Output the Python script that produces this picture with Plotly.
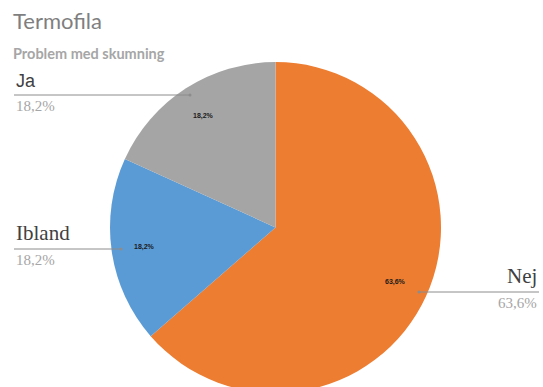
import math
import plotly.graph_objects as go

# Survey answers: "Problem med skumning" (Termofila)
categories = ["Nej", "Ibland", "Ja"]
shares = [63.6, 18.2, 18.2]
share_labels = ["63,6%", "18,2%", "18,2%"]
colors = ["#ED7D31", "#5B9BD5", "#A5A5A5"]

W, H = 543, 395
CX, CY, R = 275.5, 227.5, 165.5  # pie centre and radius in pixels


def px(x):
    return x / W


def py(y):
    return 1 - y / H


fig = go.Figure(go.Pie(
    labels=categories,
    values=shares,
    sort=False,
    direction="clockwise",
    rotation=0,
    marker=dict(colors=colors, line=dict(width=0)),
    textinfo="none",
    hoverinfo="label+percent",
    showlegend=False,
    domain=dict(x=[px(CX - R), px(CX + R)], y=[py(CY + R), py(CY - R)]),
))

annotations = []
shapes = []

# Small value labels inside each slice, placed at the slice's mid angle
total = sum(shares)
start = 0.0
for i, v in enumerate(shares):
    span = v / total * 360
    mid = math.radians(start + span / 2)
    rr = 0.80 * R
    x = CX + rr * math.sin(mid)
    y = CY - rr * math.cos(mid)
    annotations.append(dict(
        x=px(x), y=py(y), xref="paper", yref="paper",
        xanchor="center", yanchor="middle",
        text="<b>" + share_labels[i] + "</b>", showarrow=False,
        font=dict(family="Liberation Sans", size=7, color="#1a1a1a"),
    ))
    start += span

# Outside labels with leader lines: (category index, line x0, line x1, line y, side)
callouts = [
    (2, 14, 190, 95, "left"),
    (1, 14, 121, 249, "left"),
    (0, 419, 539, 292, "right"),
]
for idx, x0, x1, ly, side in callouts:
    shapes.append(dict(type="line", xref="paper", yref="paper",
                       x0=px(x0), x1=px(x1), y0=py(ly), y1=py(ly),
                       line=dict(color="#8c8c8c", width=1)))
    dot_x = x1 if side == "left" else x0
    shapes.append(dict(type="circle", xref="paper", yref="paper",
                       x0=px(dot_x - 1.5), x1=px(dot_x + 1.5),
                       y0=py(ly + 1.5), y1=py(ly - 1.5),
                       fillcolor="#8c8c8c", line=dict(width=0)))
    tx = x0 if side == "left" else x1
    anchor = "left" if side == "left" else "right"
    serif = categories[idx] != "Ja"
    annotations.append(dict(
        x=px(tx), y=py(ly - 2), xref="paper", yref="paper",
        xanchor=anchor, yanchor="bottom", text=categories[idx], showarrow=False,
        font=dict(family="Liberation Serif" if serif else "Liberation Sans",
                  size=21 if serif else 18, color="#404040"),
    ))
    annotations.append(dict(
        x=px(tx), y=py(ly + 1), xref="paper", yref="paper",
        xanchor=anchor, yanchor="top", text=share_labels[idx], showarrow=False,
        font=dict(family="Liberation Serif", size=15, color="#a6a6a6"),
    ))

# Title and subtitle
annotations.append(dict(
    x=px(11), y=py(20), xref="paper", yref="paper", xanchor="left", yanchor="middle",
    text="Termofila", showarrow=False,
    font=dict(family="Lato", size=22, color="#7f7f7f"),
))
annotations.append(dict(
    x=px(11), y=py(53), xref="paper", yref="paper", xanchor="left", yanchor="middle",
    text="<b>Problem med skumning</b>", showarrow=False,
    font=dict(family="Lato", size=14.5, color="#a6a6a6"),
))

fig.update_layout(
    width=W, height=H,
    margin=dict(l=0, r=0, t=0, b=0),
    paper_bgcolor="white", plot_bgcolor="white",
    annotations=annotations, shapes=shapes,
)

fig.write_html(
    "out.html",
    config={"displayModeBar": False},
    post_script="document.body.style.margin='0';document.body.style.overflow='hidden';"
                "document.documentElement.style.overflow='hidden';",
)
